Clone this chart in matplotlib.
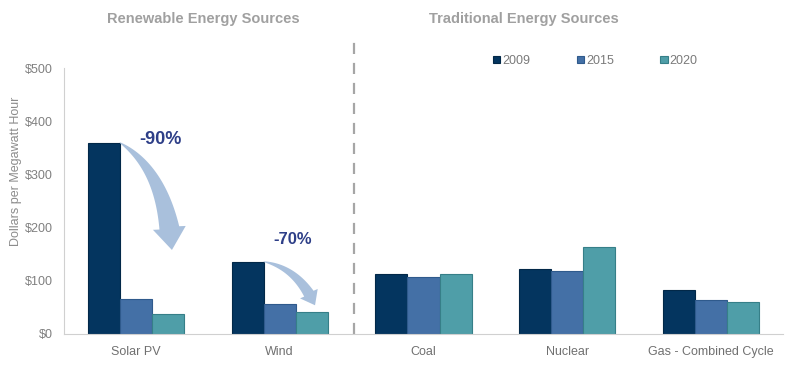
import numpy as np
import matplotlib.pyplot as plt
from matplotlib.patches import Polygon
from matplotlib.transforms import IdentityTransform

plt.rcParams['font.family'] = ['Liberation Sans', 'DejaVu Sans']

categories = ['Solar PV', 'Wind', 'Coal', 'Nuclear', 'Gas - Combined Cycle']
years = ['2009', '2015', '2020']
cost_2009 = [360, 136, 112, 123, 83]
cost_2015 = [65, 56, 108, 118, 64]
cost_2020 = [38, 41, 113, 164, 60]
yticks = [0, 100, 200, 300, 400, 500]
ytick_labels = ['$0', '$100', '$200', '$300', '$400', '$500']

colors = ['#04355f', '#4470a6', '#4f9ea8']
edges = ['#022848', '#2f5a8c', '#367f88']


def curved_arrow(ax, p0, p1, p2, max_w, head_w, head_len, color):
    # tapered quadratic-bezier arrow, widths in pixels
    T = ax.transData
    P0, P1, P2 = (np.array(T.transform(p)) for p in (p0, p1, p2))
    t = np.linspace(0, 1, 300)[:, None]
    pts = (1 - t) ** 2 * P0 + 2 * (1 - t) * t * P1 + t ** 2 * P2
    seg = np.r_[0, np.cumsum(np.hypot(*np.diff(pts, axis=0).T))]
    keep = seg <= seg[-1] - head_len
    pts, s = pts[keep], seg[keep]
    d = np.gradient(pts, axis=0)
    d /= np.hypot(d[:, 0], d[:, 1])[:, None]
    n = np.c_[-d[:, 1], d[:, 0]]
    wid = (0.5 + (max_w - 0.5) * (s / s[-1]) ** 0.8)[:, None]
    left = pts + n * wid / 2
    right = pts - n * wid / 2
    base = pts[-1]
    dh = (P2 - base) / np.hypot(*(P2 - base))
    nh = np.array([-dh[1], dh[0]])
    poly = np.vstack([left, base + nh * head_w / 2, P2, base - nh * head_w / 2, right[::-1]])
    ax.add_patch(Polygon(poly, closed=True, transform=IdentityTransform(),
                         facecolor=color, edgecolor='none'))


fig = plt.figure(figsize=(7.99, 3.87), dpi=100)
ax = fig.add_axes([0.080, 0.137, 0.900, 0.687])

x = np.arange(len(categories))
w = 0.223
for i, (vals, yr) in enumerate(zip([cost_2009, cost_2015, cost_2020], years)):
    ax.bar(x + (i - 1) * w, vals, width=w, color=colors[i], edgecolor=edges[i],
           linewidth=0.8, label=yr)

ax.set_xlim(-0.5, 4.5)
ax.set_ylim(0, 500)
ax.set_xticks(x)
ax.set_xticklabels(categories, color='#707070', fontsize=9)
ax.set_yticks(yticks)
ax.set_yticklabels(ytick_labels, color='#808080', fontsize=9)
ax.tick_params(length=0, pad=8)
ax.tick_params(axis='x', pad=9)
ax.set_ylabel('Dollars per Megawatt Hour', color='#8c8c8c', fontsize=9)
ax.yaxis.set_label_coords(-0.058, 0.61)
for sp in ['top', 'right']:
    ax.spines[sp].set_visible(False)
for sp in ['left', 'bottom']:
    ax.spines[sp].set_color('#d0d0d0')

# divider between renewable and traditional
ax.plot([1.52, 1.52], [0, 560], ls=(0, (5, 4)), color='#a6a6a6', lw=1.6, clip_on=False)

ax.text(0.47, 592, 'Renewable Energy Sources', ha='center', va='center',
        fontsize=10.5, fontweight='bold', color='#a0a0a0')
ax.text(2.70, 592, 'Traditional Energy Sources', ha='center', va='center',
        fontsize=10.5, fontweight='bold', color='#a0a0a0')

leg = ax.legend(loc='center left', bbox_to_anchor=(0.581, 1.027), ncol=3, frameon=False,
                fontsize=9, handlelength=0.6, handleheight=0.6, handletextpad=0.15,
                columnspacing=3.7)
for txt in leg.get_texts():
    txt.set_color('#7a7a7a')

# reduction arrows
arrow_col = '#a9c0dc'
curved_arrow(ax, (x[0] - w / 2, cost_2009[0]), (0.21, 306), (0.251, 158),
             max_w=20, head_w=33, head_len=22, color=arrow_col)
curved_arrow(ax, (x[1] - w / 2, cost_2009[1]), (1.128, 124), (1.246, 54),
             max_w=11, head_w=20, head_len=13, color=arrow_col)
ax.text(0.17, 365, '-90%', ha='center', va='center', fontsize=13,
        fontweight='bold', color='#2e3f88')
ax.text(1.09, 177, '-70%', ha='center', va='center', fontsize=12,
        fontweight='bold', color='#2e3f88')

plt.savefig('out.png', dpi=100)
